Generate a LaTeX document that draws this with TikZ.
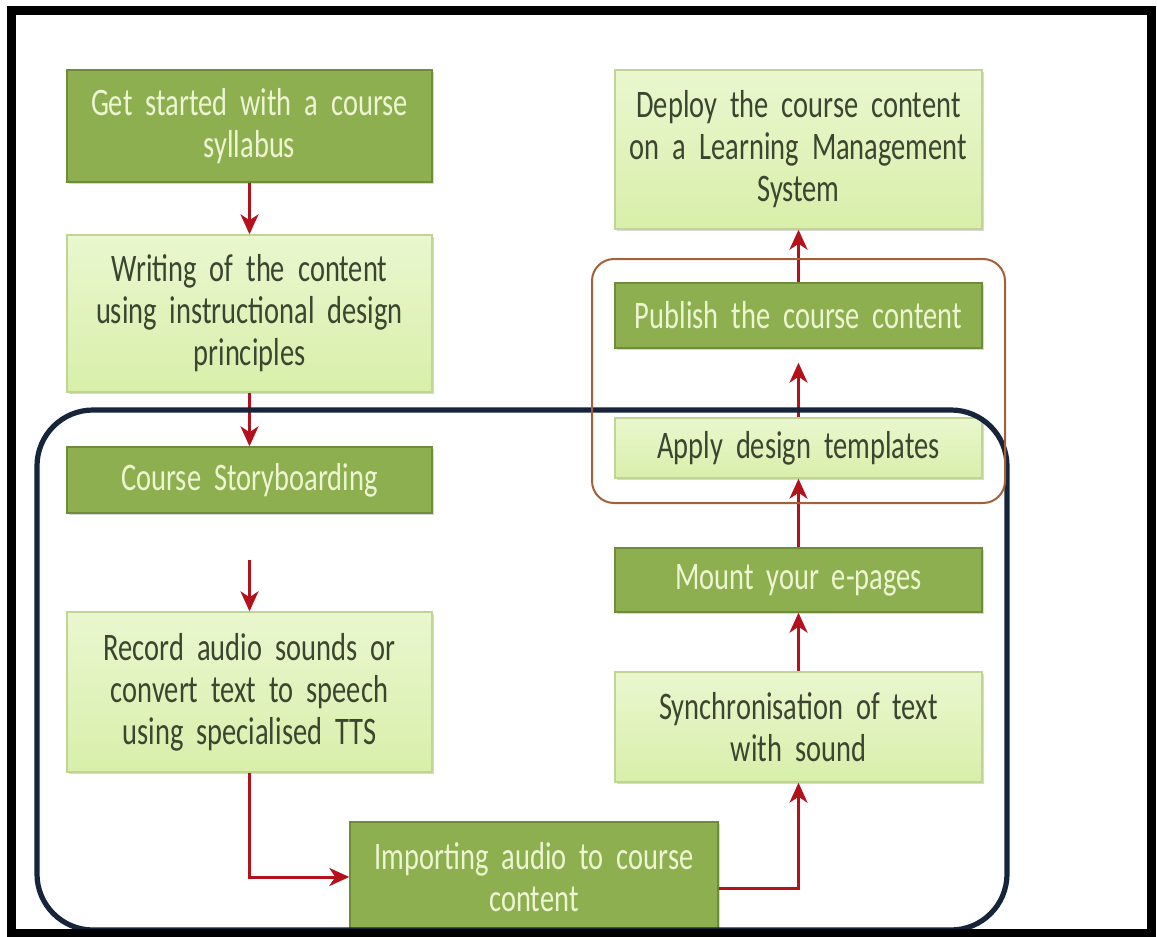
\documentclass[tikz,border=0pt]{standalone}
\usepackage{fontspec}
\setmainfont{Carlito}[FakeStretch=0.73]
\usetikzlibrary{arrows.meta,shadows}
\definecolor{leafdark}{HTML}{8DAF4F}
\definecolor{leafedge}{HTML}{6E8C3A}
\definecolor{leaftext}{HTML}{EEF5D2}
\definecolor{palegreen}{HTML}{EAF7CF}
\definecolor{palegreenlow}{HTML}{D8EFAA}
\definecolor{paleedge}{HTML}{BFD495}
\definecolor{inkgreen}{HTML}{3A4630}
\definecolor{flowred}{HTML}{B3121C}
\definecolor{navyline}{HTML}{16253A}
\definecolor{rustline}{HTML}{A5603A}
\tikzset{
  stage/.style={rectangle, minimum width=182.5pt, text width=180pt, align=center,
    inner sep=0pt, font=\fontsize{19.5}{21}\selectfont,
    drop shadow={shadow xshift=0.8pt, shadow yshift=-1.2pt, opacity=0.3}},
  darkstage/.style={stage, fill=leafdark, draw=leafedge, line width=0.7pt, text=leaftext},
  lightstage/.style={stage, top color=palegreen, bottom color=palegreenlow,
    draw=paleedge, line width=0.7pt, text=inkgreen},
  flow/.style={draw=flowred, line width=1.5pt,
    -{Stealth[length=10pt,width=9pt,inset=3pt]}},
}
\begin{document}
\begin{tikzpicture}[x=0.5pt,y=-0.5pt]
\useasboundingbox (0,0) rectangle (1157,937);
\fill[white] (0,0) rectangle (1157,937);

   \node[darkstage, minimum height=56pt] (syllabus) at (249.5,126) {Get started with a course\\syllabus};
   \node[lightstage, minimum height=78.5pt] (writing) at (249.5,313.5) {Writing of the content\\using instructional design\\principles};
   \node[darkstage, minimum height=33pt] (story) at (249.5,480) {Course Storyboarding};
   \node[lightstage, minimum height=80pt] (record) at (249.5,692) {Record audio sounds or\\convert text to speech\\using specialised TTS};
   \node[darkstage, minimum width=184pt, minimum height=55pt] (import) at (534,877) {Importing audio to course\\content};
   \node[lightstage, minimum width=183.5pt, minimum height=55pt] (sync) at (798.5,727) {Synchronisation of text\\with sound};
   \node[darkstage, minimum width=183.5pt, minimum height=32pt] (mount) at (798.5,580) {Mount your e-pages};
   \node[lightstage, minimum width=183.5pt, minimum height=30pt] (apply) at (798.5,448) {Apply design templates};
   \node[darkstage, minimum width=183.5pt, minimum height=32.5pt] (publish) at (798.5,315.5) {Publish the course content};
   \node[lightstage, minimum width=183.5pt, minimum height=79.5pt] (deploy) at (798.5,149.5) {Deploy the course content\\on a Learning Management\\System};

\begin{scope}[flow]
   \draw (syllabus) -- (writing);
   \draw (writing) -- (story);
   \draw[shorten <=23pt] (story) -- (record);
   \draw (record.south) |- (import.west);
   \draw ([yshift=-5.5pt]import.east) -| (sync.south);
   \draw (sync) -- (mount);
   \draw (mount) -- (apply);
   \draw[shorten >=7pt] (apply) -- (publish);
   \draw (publish) -- (deploy);
\end{scope}

   \draw[navyline, line width=2.6pt, rounded corners=28pt] (37,410) rectangle (1007,930);
   \draw[rustline, line width=1pt, rounded corners=11pt] (592,259) rectangle (1005,503);
   \draw[black, line width=4.5pt] (11,10) rectangle (1151.5,933);
\end{tikzpicture}
\end{document}
